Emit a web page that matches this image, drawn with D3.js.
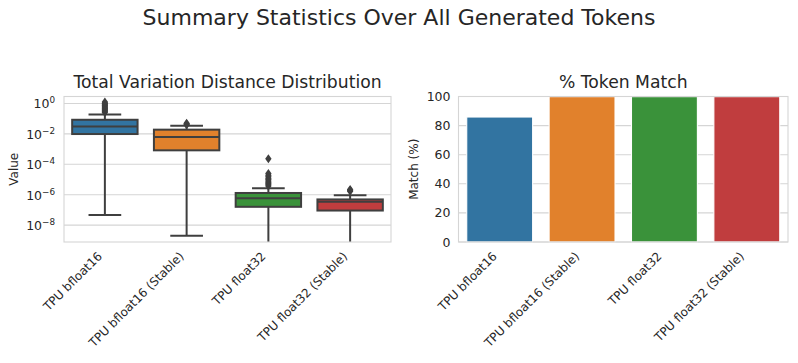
<!DOCTYPE html>
<html>
<head>
<meta charset="utf-8">
<script src="https://cdn.jsdelivr.net/npm/d3@7"></script>
<style>
  body { margin: 0; background: #fff; }
  text { font-family: "DejaVu Sans", sans-serif; fill: #262626; }
</style>
</head>
<body>
<svg id="chart" width="798" height="363"></svg>
<script>
// data
const categories = ["TPU bfloat16", "TPU bfloat16 (Stable)", "TPU float32", "TPU float32 (Stable)"];
const colors = ["#3274a1", "#e1812c", "#3a923a", "#c03d3e"];

// box plot stats of total variation distance
const whiskerLow = [4.6e-8, 2.0e-9, 1e-11, 1e-11];
const q1 = [9.8e-3, 8.3e-4, 1.6e-7, 9.1e-8];
const median = [3.1e-2, 6.2e-3, 5.9e-7, 3.4e-7];
const q3 = [8.5e-2, 1.9e-2, 1.3e-6, 4.9e-7];
const whiskerHigh = [0.19, 3.5e-2, 2.7e-6, 9.3e-7];
const outliers = [
  [0.26, 0.3, 0.35, 0.4, 0.46, 0.53, 0.6, 0.7, 0.8, 0.92, 1.05, 1.25],
  [0.04, 0.045, 0.05],
  [3.8e-6, 4.5e-6, 5.5e-6, 6.5e-6, 8e-6, 1e-5, 1.2e-5, 1.5e-5, 1.9e-5, 2.5e-5, 2.3e-4],
  [1.7e-6, 2.0e-6, 2.2e-6]
];
const logTicks = [0, -2, -4, -6, -8];

// token match percentages
const matchPct = [85.9, 99.9, 99.9, 99.9];
const pctTicks = [0, 20, 40, 60, 80, 100];

const svg = d3.select("#chart");
const gray = "#3f3f3f";
const gridColor = "#d5d5d5";

svg.append("text")
   .attr("x", 399)
   .attr("y", 25)
   .attr("text-anchor", "middle")
   .style("font-size", "22px")
   .text("Summary Statistics Over All Generated Tokens");

// x labels helper
function xLabels(g, xScale, y) {
  g.selectAll(".xlab")
   .data(categories)
   .enter()
   .append("text")
   .attr("class", "xlab")
   .attr("transform", d => `translate(${xScale(d) + xScale.bandwidth() / 2 - 2}, ${y}) rotate(-45)`)
   .attr("text-anchor", "end")
   .style("font-size", "12px")
   .text(d => d);
}

// ---------- left: box plot ----------
const L = { left: 64, right: 391, top: 96.5, bottom: 242 };

const xBox = d3.scaleBand().domain(categories).range([L.left, L.right]);
const yBox = d3.scaleLog().domain([Math.pow(10, -9.11), Math.pow(10, 0.46)]).range([L.bottom, L.top]);

const boxG = svg.append("g");

svg.append("clipPath").attr("id", "clipL")
   .append("rect")
   .attr("x", L.left).attr("y", L.top)
   .attr("width", L.right - L.left).attr("height", L.bottom - L.top);

// grid
boxG.selectAll(".grid")
    .data(logTicks)
    .enter()
    .append("line")
    .attr("x1", L.left).attr("x2", L.right)
    .attr("y1", d => yBox(Math.pow(10, d)))
    .attr("y2", d => yBox(Math.pow(10, d)))
    .attr("stroke", gridColor)
    .attr("stroke-width", 1.1);

// y tick labels with superscripts
const yLab = boxG.selectAll(".ylab")
    .data(logTicks)
    .enter()
    .append("text")
    .attr("class", "ylab")
    .attr("x", L.left - 9)
    .attr("y", d => yBox(Math.pow(10, d)) + 5)
    .attr("text-anchor", "end")
    .style("font-size", "12.5px");
yLab.append("tspan").text("10");
yLab.append("tspan")
    .attr("dy", -5)
    .style("font-size", "8.8px")
    .text(d => d === 0 ? "0" : "\u2212" + Math.abs(d));

boxG.append("text")
    .attr("transform", `translate(18, ${(L.top + L.bottom) / 2}) rotate(-90)`)
    .attr("text-anchor", "middle")
    .style("font-size", "12px")
    .text("Value");

boxG.append("text")
    .attr("x", (L.left + L.right) / 2)
    .attr("y", 88)
    .attr("text-anchor", "middle")
    .style("font-size", "17.2px")
    .text("Total Variation Distance Distribution");

boxG.append("g")
    .attr("clip-path", "url(#clipL)")
    .selectAll(".box")
    .data(categories)
    .enter()
    .append("g")
    .attr("class", "box")
    .each((d, i, nodes) => {
      const g = d3.select(nodes[i]);
      const bw = xBox.bandwidth() * 0.8;
      const cx = xBox(d) + xBox.bandwidth() / 2;

      // whiskers
      g.append("line")
       .attr("x1", cx).attr("x2", cx)
       .attr("y1", yBox(whiskerLow[i])).attr("y2", yBox(q1[i]))
       .attr("stroke", gray).attr("stroke-width", 2);
      g.append("line")
       .attr("x1", cx).attr("x2", cx)
       .attr("y1", yBox(q3[i])).attr("y2", yBox(whiskerHigh[i]))
       .attr("stroke", gray).attr("stroke-width", 2);
      [whiskerLow[i], whiskerHigh[i]].forEach(v => {
        g.append("line")
         .attr("x1", cx - bw / 4).attr("x2", cx + bw / 4)
         .attr("y1", yBox(v)).attr("y2", yBox(v))
         .attr("stroke", gray).attr("stroke-width", 2);
      });

      g.append("rect")
       .attr("x", cx - bw / 2)
       .attr("y", yBox(q3[i]))
       .attr("width", bw)
       .attr("height", yBox(q1[i]) - yBox(q3[i]))
       .attr("fill", colors[i])
       .attr("stroke", gray)
       .attr("stroke-width", 2);

      g.append("line")
       .attr("x1", cx - bw / 2).attr("x2", cx + bw / 2)
       .attr("y1", yBox(median[i])).attr("y2", yBox(median[i]))
       .attr("stroke", gray).attr("stroke-width", 2);

      g.selectAll(".flier")
       .data(outliers[i])
       .enter()
       .append("path")
       .attr("class", "flier")
       .attr("d", "M0,-4.5L3.2,0L0,4.5L-3.2,0Z")
       .attr("transform", v => `translate(${cx}, ${yBox(v)})`)
       .attr("fill", gray);
    });

boxG.append("rect")
    .attr("x", L.left).attr("y", L.top)
    .attr("width", L.right - L.left).attr("height", L.bottom - L.top)
    .attr("fill", "none")
    .attr("stroke", gridColor)
    .attr("stroke-width", 1.1);

xLabels(boxG, xBox, 257);

// ---------- right: bar chart ----------
const R = { left: 458.5, right: 788, top: 96.5, bottom: 242 };

const xBar = d3.scaleBand().domain(categories).range([R.left, R.right]);
const yBar = d3.scaleLinear().domain([0, 100]).range([R.bottom, R.top]);

const barG = svg.append("g");

barG.selectAll(".grid")
    .data(pctTicks)
    .enter()
    .append("line")
    .attr("x1", R.left).attr("x2", R.right)
    .attr("y1", d => yBar(d)).attr("y2", d => yBar(d))
    .attr("stroke", gridColor)
    .attr("stroke-width", 1.1);

barG.selectAll(".ylab")
    .data(pctTicks)
    .enter()
    .append("text")
    .attr("x", R.left - 8)
    .attr("y", d => yBar(d) + 4.5)
    .attr("text-anchor", "end")
    .style("font-size", "12.5px")
    .text(d => d);

barG.selectAll(".bar")
    .data(matchPct)
    .enter()
    .append("rect")
    .attr("class", "bar")
    .attr("x", (d, i) => xBar(categories[i]) + xBar.bandwidth() * 0.1)
    .attr("y", d => yBar(d))
    .attr("width", xBar.bandwidth() * 0.8)
    .attr("height", d => yBar(0) - yBar(d))
    .attr("fill", (d, i) => colors[i])
    .attr("stroke", "#ffffff")
    .attr("stroke-width", 1.1);

barG.append("rect")
    .attr("x", R.left).attr("y", R.top)
    .attr("width", R.right - R.left).attr("height", R.bottom - R.top)
    .attr("fill", "none")
    .attr("stroke", gridColor)
    .attr("stroke-width", 1.1);

barG.append("text")
    .attr("transform", `translate(418, ${(R.top + R.bottom) / 2}) rotate(-90)`)
    .attr("text-anchor", "middle")
    .style("font-size", "12px")
    .text("Match (%)");

barG.append("text")
    .attr("x", (R.left + R.right) / 2)
    .attr("y", 88)
    .attr("text-anchor", "middle")
    .style("font-size", "17.2px")
    .text("% Token Match");

xLabels(barG, xBar, 257);
</script>
</body>
</html>
